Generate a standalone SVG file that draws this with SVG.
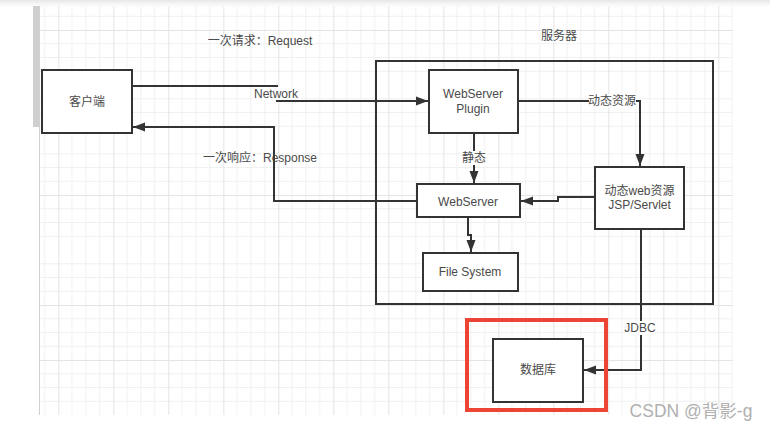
<svg xmlns="http://www.w3.org/2000/svg" width="770" height="433" viewBox="0 0 770 433">
<style>
.box{fill:#fff;stroke:#333;stroke-width:2}
.t{font-family:"Liberation Sans","Noto Sans CJK SC",Arial,sans-serif;font-size:12px;fill:#4a4a4a;text-anchor:middle;dominant-baseline:central}
.ln{fill:none;stroke:#333;stroke-width:2}
.lbl{fill:#fff}
</style>
<defs>
<pattern id="grid" patternUnits="userSpaceOnUse" x="3.33" y="30" width="55" height="55">
<path d="M13.75 0V55M27.5 0V55M41.25 0V55M0 13.75H55M0 27.5H55M0 41.25H55" stroke="#f0f0f0" stroke-width="1" fill="none"/>
<path d="M0.5 0V55M0 0.5H55" stroke="#e4e4e4" stroke-width="1" fill="none"/>
</pattern>
<linearGradient id="top" x1="0" y1="0" x2="0" y2="1">
<stop offset="0" stop-color="#e6e6e6"/>
<stop offset="1" stop-color="#fff" stop-opacity="0"/>
</linearGradient>
<marker id="arr" markerUnits="userSpaceOnUse" markerWidth="13" markerHeight="10" refX="12" refY="5" orient="auto">
<path d="M0,0.5 L12,5 L0,9.5 Z" fill="#333"/>
</marker>
</defs>
<rect width="770" height="433" fill="#fff"/>
<rect x="39" y="6" width="694" height="409" fill="url(#grid)"/>
<rect width="770" height="10" fill="url(#top)"/>
<rect x="33" y="6" width="6" height="121" fill="#cfcfcf"/>
<line x1="39.5" y1="6" x2="39.5" y2="415" stroke="#d0d0d0" stroke-width="1"/>

<g id="server">
<rect class="box" x="376" y="61" width="337" height="243" style="fill:none"/>
<text class="t" x="559" y="36">服务器</text>
</g>

<g id="edges">
<path class="ln" d="M132,86 H277 V101 H428" marker-end="url(#arr)"/>
<rect class="lbl" x="252" y="87" width="49" height="13"/>
<text class="t" x="276" y="94">Network</text>
<path class="ln" d="M417,201 H274 V127 H133" marker-end="url(#arr)"/>
<path class="ln" d="M518,101 H640 V166" marker-end="url(#arr)"/>
<rect class="lbl" x="589" y="94" width="47" height="14"/>
<text class="t" x="612" y="101">动态资源</text>
<path class="ln" d="M474,133 V183" marker-end="url(#arr)"/>
<rect class="lbl" x="461" y="151" width="26" height="14"/>
<text class="t" x="474" y="158">静态</text>
<path class="ln" d="M595,197 H558 V201 H521" marker-end="url(#arr)"/>
<path class="ln" d="M468,217 V235 H471 V252" marker-end="url(#arr)"/>
<path class="ln" d="M641,229 V370 H584" marker-end="url(#arr)"/>
<rect class="lbl" x="625" y="321" width="30" height="14"/>
<text class="t" x="640" y="328">JDBC</text>
</g>

<text class="t" x="260" y="41">一次请求：Request</text>
<text class="t" x="260" y="158">一次响应：Response</text>

<g id="client">
<rect class="box" x="42" y="70" width="90" height="63"/>
<text class="t" x="87" y="102">客户端</text>
</g>
<g id="plugin">
<rect class="box" x="429" y="70" width="89" height="63"/>
<text class="t" x="473" y="94">WebServer</text>
<text class="t" x="473" y="109">Plugin</text>
</g>
<g id="dynamic">
<rect class="box" x="595" y="167" width="89" height="62"/>
<text class="t" x="639.5" y="191">动态web资源</text>
<text class="t" x="639.5" y="205">JSP/Servlet</text>
</g>
<g id="webserver">
<rect class="box" x="417" y="184" width="103" height="33"/>
<text class="t" x="468" y="202">WebServer</text>
</g>
<g id="filesystem">
<rect class="box" x="423" y="253" width="95" height="38"/>
<text class="t" x="470" y="272">File System</text>
</g>
<g id="database">
<rect x="467" y="320" width="139" height="90" fill="none" stroke="#ee4433" stroke-width="4"/>
<rect class="box" x="493" y="339" width="90" height="63"/>
<text class="t" x="538" y="370">数据库</text>
</g>
<text x="691" y="411" style="font-family:'Liberation Sans','Noto Sans CJK SC',sans-serif;font-size:17.5px;fill:#b0b0b0;text-anchor:middle;dominant-baseline:central">CSDN @背影-g</text>
</svg>
